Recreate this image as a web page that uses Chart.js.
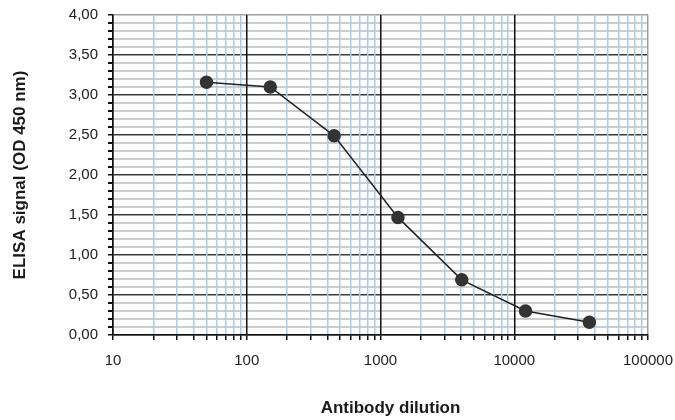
<!DOCTYPE html>
<html>
<head>
<meta charset="utf-8">
<script src="https://cdn.jsdelivr.net/npm/chart.js@4.4.1/dist/chart.umd.min.js"></script>
<style>
  html, body { margin: 0; padding: 0; background: #fff; }
  #wrap { width: 675px; height: 420px; }
</style>
</head>
<body>
<div id="wrap"><canvas id="chart"></canvas></div>
<script>
// data
const dilutions = [50, 150, 450, 1350, 4050, 12150, 36450];
const signal = [3.16, 3.10, 2.49, 1.47, 0.69, 0.30, 0.16];
const xDecades = [10, 100, 1000, 10000, 100000];
const yTickStep = 0.1;
const yLabelStep = 0.5;
const xTitle = 'Antibody dilution';
const yTitle = 'ELISA signal (OD 450 nm)';

// minor ticks 1..9 per decade
const xTickValues = [];
xDecades.forEach((d, i) => {
  if (i === xDecades.length - 1) { xTickValues.push(d); return; }
  for (let k = 1; k <= 9; k++) xTickValues.push(d * k);
});

const isYMajor = v => Math.abs(v / yLabelStep - Math.round(v / yLabelStep)) < 1e-6;
const fmt = v => v.toFixed(2).replace('.', ',');
const titleFont = 'bold 17px "Liberation Sans"';

// x title sits a little right of the plot centre in the original
const xTitlePlugin = {
  id: 'xTitle',
  afterDraw(chart) {
    const c = chart.ctx, a = chart.chartArea;
    c.save();
    c.font = titleFont;
    c.fillStyle = '#1a1a1a';
    c.textAlign = 'center';
    c.textBaseline = 'middle';
    c.fillText(xTitle, (a.left + a.right) / 2 + 10, chart.height - 12);
    c.restore();
  }
};

const ctx = document.getElementById('chart');
new Chart(ctx, {
  type: 'scatter',
  data: {
    datasets: [{
      data: dilutions.map((x, i) => ({ x: x, y: signal[i] })),
      showLine: true,
      borderColor: '#222',
      borderWidth: 1.5,
      backgroundColor: '#333',
      pointBackgroundColor: '#333',
      pointBorderColor: '#333',
      pointRadius: 6,
      pointHoverRadius: 6
    }]
  },
  plugins: [xTitlePlugin],
  options: {
    responsive: true,
    maintainAspectRatio: false,
    animation: false,
    layout: { padding: { top: 15, right: 27, left: 0, bottom: 0 } },
    plugins: { legend: { display: false }, tooltip: { enabled: false } },
    scales: {
      x: {
        type: 'logarithmic',
        min: 10,
        max: 100000,
        afterBuildTicks: s => { s.ticks = xTickValues.map(v => ({ value: v })); },
        afterFit: s => {
          s.height = 85;
          s.paddingLeft = 0;
          s.paddingRight = 0; // layout padding decides the right edge
        },
        ticks: {
          autoSkip: false,
          maxRotation: 0,
          padding: 12,
          color: '#222',
          font: { family: 'Liberation Sans', size: 15 },
          callback: v => xDecades.includes(v) ? String(v) : ''
        },
        grid: {
          color: c => {
            const v = c.tick.value;
            if (v === 100000) return '#a0a0a0';
            return xDecades.includes(v) ? '#111' : '#a6cdee';
          },
          lineWidth: 1.5,
          tickColor: '#111',
          tickLength: 5
        },
        border: { color: '#111', width: 1.5 },
        title: { display: false }
      },
      y: {
        min: 0,
        max: 4,
        afterFit: s => {
          s.width = 113;
          s.paddingTop = 0;
          s.paddingBottom = 0;
        },
        ticks: {
          stepSize: yTickStep,
          autoSkip: false,
          padding: 10,
          color: '#222',
          font: { family: 'Liberation Sans', size: 15 },
          callback: v => isYMajor(v) ? fmt(v) : ''
        },
        grid: {
          z: -2, // horizontal grid underneath the vertical one
          color: c => {
            const v = c.tick.value;
            if (Math.abs(v - 4) < 1e-6) return '#a0a0a0';
            return isYMajor(v) ? '#3a3a3a' : '#cdcdcd';
          },
          lineWidth: c => isYMajor(c.tick.value) ? 1.5 : 2,
          tickColor: '#111',
          tickLength: 5
        },
        border: { color: '#111', width: 1.5 },
        title: {
          display: true,
          text: yTitle,
          color: '#1a1a1a',
          font: { family: 'Liberation Sans', size: 17, weight: 'bold' },
          padding: { top: 10, bottom: 0 }
        }
      }
    }
  }
});
</script>
</body>
</html>
